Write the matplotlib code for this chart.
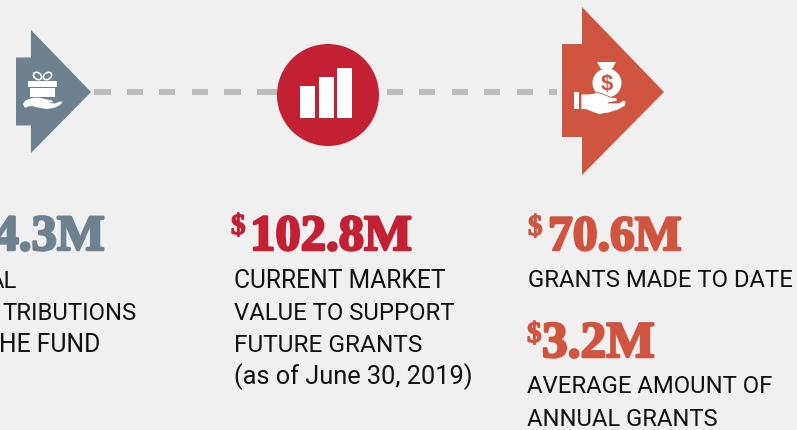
#!/usr/bin/env python3
import matplotlib
matplotlib.use("Agg")
import matplotlib.pyplot as plt
from matplotlib import patheffects
from matplotlib.patches import Circle, Ellipse, Polygon, Rectangle

plt.rcParams.update({"font.family": ["Roboto", "DejaVu Sans"]})

BG = "#f0f0f0"
SLATE = "#6d8191"
RED = "#c32033"
ORANGE = "#d05540"
DASH = "#bcbcbc"
INK = "#111111"

# everything below is in picture pixels
left_arrow = [(16, 57.5), (31, 57.5), (31, 30), (91, 92), (31, 153), (31, 125.5), (16, 125.5)]
right_arrow = [(562, 44), (582, 44), (582, 7), (664, 92), (582, 175), (582, 137), (562, 137)]
dash_spans = [(94, 111), (127, 143), (159, 175), (192, 208), (224, 241), (257, 277),
              (387, 403), (419, 435), (452, 468), (484, 500), (517, 533), (549, 557)]
bar_lefts = [300, 319, 337]
bar_tops = [86, 77, 68]

gift_hand = [(23, 104), (25, 101), (29, 99), (35, 97.5), (41, 98), (47, 99.5), (52, 100.5), (53, 102),
             (48, 103), (55, 103.5), (60, 101.5), (62.5, 102), (60, 105), (54, 108), (46, 109),
             (38, 107.5), (32, 106), (28, 106.5), (25, 108)]
coin_hand = [(581, 94), (590, 94), (597, 92.5), (603, 94), (610, 97), (617, 98), (617, 101), (608, 103),
             (619, 103), (624, 100), (626, 102), (625, 106), (618, 110), (608, 113), (599, 114.5),
             (592, 112), (586, 109.5), (581, 109.5)]
bag_neck = [(597, 62), (616, 62), (612, 69), (601, 69)]

big_numbers = [("4.3M", 105, 250, SLATE, "right", 36.5), ("102.8M", 250, 250, RED, "left", 36.5),
               ("70.6M", 548, 250, ORANGE, "left", 35.7), ("3.2M", 542, 357, ORANGE, "left", 37.0)]
dollar_signs = [(231, 234, RED), (528, 235, ORANGE), (527, 342, ORANGE)]
body_lines = [("AL", 17, 288, "right", 17.2), ("TRIBUTIONS", 137, 320, "right", 17.2),
              ("HE FUND", 100, 352, "right", 17.8),
              ("CURRENT MARKET", 234, 288, "left", 17.7), ("VALUE TO SUPPORT", 234, 320, "left", 17.2),
              ("FUTURE GRANTS", 234, 352, "left", 17.6), ("(as of June 30, 2019)", 234, 384, "left", 18.3),
              ("GRANTS MADE TO DATE", 528, 287, "left", 17.2), ("AVERAGE AMOUNT OF", 527, 393, "left", 17.2),
              ("ANNUAL GRANTS", 527, 426, "left", 17.1)]


def main():
    fig = plt.figure(figsize=(7.97, 4.30), dpi=100, facecolor=BG)
    ax = fig.add_axes([0, 0, 1, 1])
    ax.set_xlim(0, 797)
    ax.set_ylim(430, 0)
    ax.axis("off")

    for x0, x1 in dash_spans:
        ax.add_patch(Rectangle((x0, 89), x1 - x0, 6, color=DASH, lw=0))

    ax.add_patch(Polygon(left_arrow, color=SLATE, lw=0))
    ax.add_patch(Polygon(right_arrow, color=ORANGE, lw=0))
    ax.add_patch(Circle((328, 95), 51, color=RED, lw=0))

    for x, top in zip(bar_lefts, bar_tops):
        ax.add_patch(Rectangle((x, top), 15, 118 - top, color="white", lw=0))

    # gift icon
    ax.add_patch(Rectangle((28, 81), 29, 5.5, color="white", lw=0))
    ax.add_patch(Rectangle((30, 88), 25, 9, color="white", lw=0))
    for cx, angle in ((37.5, 35), (47.5, -35)):
        ax.add_patch(Ellipse((cx, 76), 9, 6.5, angle=angle, fill=False, ec="white", lw=1.1))
    ax.add_patch(Polygon(gift_hand, color="white", lw=0))

    # money bag icon
    ax.add_patch(Circle((607, 83), 14.5, color="white", lw=0))
    ax.add_patch(Polygon(bag_neck, color="white", lw=0))
    ax.add_patch(Rectangle((574, 92), 5.5, 17, color="white", lw=0))
    ax.add_patch(Polygon(coin_hand, color="white", ec=ORANGE, lw=0.6))
    ax.text(606.5, 90, "$", color=ORANGE, fontsize=16, fontweight="bold", ha="center", va="baseline",
            family="Liberation Sans")

    for label, x, y, color, ha, size in big_numbers:
        ax.text(x, y, label, color=color, fontsize=size, fontweight="bold", ha=ha, va="baseline",
                family="Liberation Serif",
                path_effects=[patheffects.withStroke(linewidth=1.8, foreground=color)])
    for x, y, color in dollar_signs:
        ax.text(x, y, "$", color=color, fontsize=21, fontweight="bold", ha="left", va="baseline",
                family="Liberation Serif",
                path_effects=[patheffects.withStroke(linewidth=1.0, foreground=color)])
    for label, x, y, ha, size in body_lines:
        ax.text(x, y, label, color=INK, fontsize=size, ha=ha, va="baseline")

    fig.savefig("out.png", dpi=100, facecolor=BG)


if __name__ == "__main__":
    main()
